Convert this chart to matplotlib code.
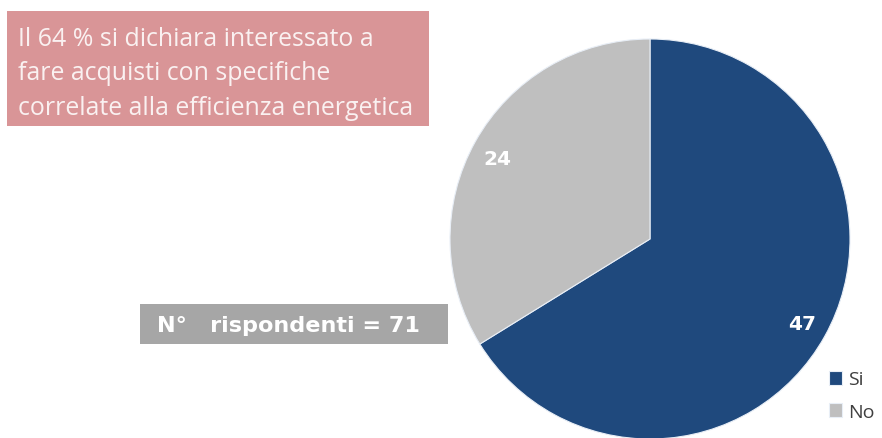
import matplotlib
matplotlib.use("Agg")
import matplotlib.pyplot as plt
from matplotlib.patches import Rectangle

# Survey answers
categories = ["Si", "No"]
counts = [47, 24]
colors = ["#1F497D", "#BFBFBF"]
total = sum(counts)

headline = "Il 64 % si dichiara interessato a\nfare acquisti con specifiche\ncorrelate alla efficienza energetica"
respondents = f"N°   rispondenti = {total}"

W, H = 882, 439
fig = plt.figure(figsize=(W / 100, H / 100), dpi=100)
fig.patch.set_facecolor("white")

# Pie chart: clockwise from 12 o'clock
ax = fig.add_axes([450 / W, -1 / H, 400 / W, 400 / H])
wedges, texts, autotexts = ax.pie(
    counts, colors=colors, startangle=90, counterclock=False,
    radius=1.0, autopct=lambda p: f"{round(p * total / 100):d}",
    pctdistance=0.87,
    wedgeprops=dict(edgecolor="#E8EEF6", linewidth=0.8),
    textprops=dict(color="white", fontsize=14.5, fontweight="bold",
                   family="DejaVu Sans"),
)
# the "No" label sits higher up in its slice
autotexts[1].set_position((-0.765, 0.40))
ax.set_xlim(-1, 1)
ax.set_ylim(-1, 1)
ax.set_aspect("equal")
ax.axis("off")
for w in wedges:
    w.set_clip_on(False)

# Headline box
fig.patches.append(Rectangle((7 / W, 1 - 127 / H), 422 / W, 115 / H,
                             transform=fig.transFigure, facecolor="#D99597",
                             edgecolor="none"))
fig.text(18 / W, 1 - 27 / H, headline, ha="left", va="top", color="#FAF1F1",
         fontsize=17.9, family="Open Sans", linespacing=1.5)

# Respondents box
fig.patches.append(Rectangle((140 / W, 1 - 345 / H), 308 / W, 40 / H,
                             transform=fig.transFigure, facecolor="#A6A6A6",
                             edgecolor="none"))
fig.text(157 / W, 1 - 326 / H, respondents, ha="left", va="center",
         color="white", fontsize=16.1, fontweight="bold", family="DejaVu Sans")

# Legend
leg = fig.legend(wedges, categories, loc="upper left",
                 bbox_to_anchor=(811 / W, 1 - 354 / H), frameon=False,
                 handlelength=0.7, handleheight=0.7, handletextpad=0.3,
                 labelspacing=0.75, prop=dict(family="Open Sans", size=14))
for t in leg.get_texts():
    t.set_color("#404040")

fig.savefig("out.png", dpi=100)
